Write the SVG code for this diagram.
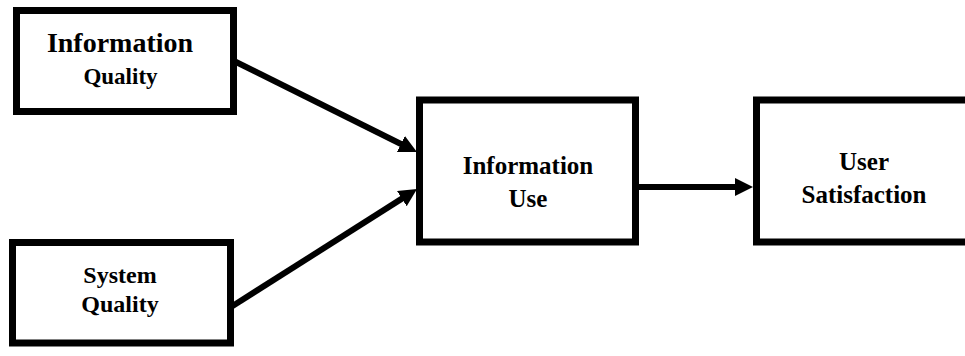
<svg xmlns="http://www.w3.org/2000/svg" width="965" height="356" viewBox="0 0 965 356">
  <style>
    .box { fill: #ffffff; stroke: #000000; stroke-width: 7; }
    .lbl { font-weight: bold; fill: #000000; text-anchor: middle; }
    .edge { stroke: #000000; stroke-width: 6; fill: none; }
  </style>
  <defs>
    <marker id="arrow" markerUnits="userSpaceOnUse" markerWidth="18" markerHeight="18" refX="8" refY="9" orient="auto">
      <path d="M0,0 L18,9 L0,18 z" fill="#000000"/>
    </marker>
  </defs>
  <rect width="965" height="356" fill="#ffffff"/>
  <g id="connectors">
    <line class="edge" x1="232" y1="60" x2="408" y2="147.5" marker-end="url(#arrow)"/>
    <line class="edge" x1="231" y1="307" x2="408.6" y2="194.4" marker-end="url(#arrow)"/>
    <line class="edge" x1="639" y1="187" x2="743" y2="187" marker-end="url(#arrow)"/>
  </g>
  <g font-family="'Liberation Serif', 'Times New Roman', 'DejaVu Serif', serif">
  <g id="information-quality">
    <rect class="box" x="16.5" y="10.5" width="217" height="101"/>
    <text class="lbl" x="120" y="52" font-size="28">Information</text>
    <text class="lbl" x="120.5" y="84" font-size="23">Quality</text>
  </g>
  <g id="system-quality">
    <rect class="box" x="12.5" y="242.5" width="218" height="100.5"/>
    <text class="lbl" x="120" y="283" font-size="24">System</text>
    <text class="lbl" x="120" y="312" font-size="24">Quality</text>
  </g>
  <g id="information-use">
    <rect class="box" x="419.5" y="100" width="216" height="142"/>
    <text class="lbl" x="528" y="174" font-size="25">Information</text>
    <text class="lbl" x="528" y="207" font-size="25">Use</text>
  </g>
  <g id="user-satisfaction">
    <rect class="box" x="756.5" y="100" width="230" height="142"/>
    <text class="lbl" x="864" y="170" font-size="25">User</text>
    <text class="lbl" x="864" y="203" font-size="25">Satisfaction</text>
  </g>
  </g>
</svg>
